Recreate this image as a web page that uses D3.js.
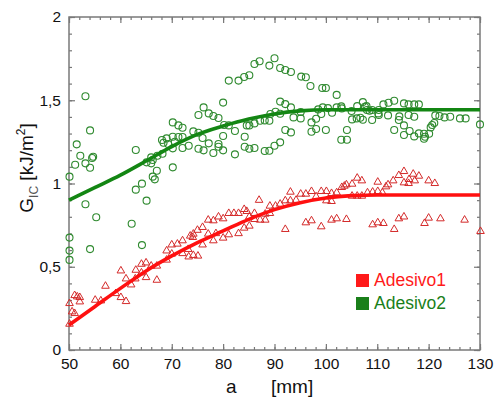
<!DOCTYPE html>
<html>
<head>
<meta charset="utf-8">
<script src="https://cdn.jsdelivr.net/npm/d3@7"></script>
<style>
  body { margin: 0; background: #fff; }
  svg { display: block; font-family: Arial, "Liberation Sans", sans-serif; }
  .tick text { font-size: 15.5px; fill: #111; }
  .tick line { stroke: #777; }
  .domain { display: none; }
</style>
</head>
<body>
<svg id="chart" width="494" height="398"></svg>
<script>
// Adesivo1: [a (mm), GIC (kJ/m2)]
const adesivo1 = [
  [50.1,0.28],[50.1,0.156],[50.6,0.23],[51.1,0.22],[51.1,0.328],[51.6,0.32],[52.1,0.316],[52.1,0.29],
  [55.1,0.30],[56.2,0.296],[57.1,0.384],[59.1,0.34],[60.1,0.316],[60.1,0.476],[61.1,0.292],[61.1,0.428],
  [62.1,0.392],[62.9,0.428],[63.0,0.48],[64.1,0.516],[64.1,0.464],[65.0,0.524],[65.0,0.436],[66.0,0.505],
  [67.1,0.505],[67.1,0.42],[69.0,0.541],[69.0,0.596],[70.0,0.632],[70.0,0.577],[71.1,0.637],[72.1,0.657],
  [72.1,0.58],[73.2,0.605],[73.3,0.56],[73.6,0.685],[74.1,0.677],[74.2,0.569],[74.2,0.697],[75.0,0.72],
  [75.1,0.565],[76.0,0.737],[76.0,0.632],[77.1,0.781],[77.1,0.697],[78.1,0.777],[78.1,0.657],[78.6,0.70],
  [79.1,0.80],[80.0,0.789],[80.0,0.673],[81.1,0.693],[81.1,0.821],[82.1,0.821],[83.0,0.821],[83.0,0.70],
  [84.1,0.845],[84.1,0.733],[84.6,0.833],[85.1,0.745],[85.1,0.80],[86.1,0.785],[86.1,0.821],[87.0,0.90],
  [87.2,0.781],[88.2,0.781],[88.2,0.817],[89.1,0.821],[89.1,0.865],[90.2,0.865],[91.1,0.877],[92.1,0.897],
  [92.1,0.725],[93.1,0.949],[93.1,0.897],[94.2,0.90],[95.1,0.937],[96.1,0.937],[96.1,0.765],[97.2,0.777],
  [97.2,0.953],[98.1,0.921],[99.1,0.953],[99.1,0.741],[100.1,0.953],[100.1,0.897],[101.1,0.941],[101.1,0.893],
  [101.1,0.781],[102.1,0.945],[102.1,0.789],[103.1,0.977],[103.6,0.985],[104.0,0.993],[104.0,0.785],[105.1,0.997],
  [105.1,0.925],[106.1,0.925],[106.1,1.033],[107.0,0.925],[107.0,1.017],[108.1,0.945],[109.1,0.949],[109.1,0.753],
  [110.1,0.953],[110.1,1.009],[110.1,0.765],[111.0,0.945],[111.2,0.761],[111.7,0.981],[112.1,0.993],[113.1,1.017],
  [113.3,0.725],[114.2,1.049],[114.2,0.789],[115.2,1.073],[115.2,1.005],[115.2,0.80],[116.1,1.001],[116.2,1.025],
  [117.0,1.057],[117.3,1.017],[118.1,1.045],[120.0,1.017],[120.0,0.793],[119.2,0.761],[121.2,1.001],[122.3,0.789],
  [127.0,0.781],[130.1,0.713]
];

// Adesivo2: [a (mm), GIC (kJ/m2)]
const adesivo2 = [
  [50.1,1.041],[51.2,1.113],[51.5,1.235],[52.2,1.167],[53.2,1.524],[53.2,1.121],[54.1,1.319],[54.1,1.095],
  [54.5,1.153],[54.7,1.161],[63.0,1.201],[63.0,0.963],[64.2,0.999],[65.1,1.127],[66.0,1.121],[66.3,1.141],
  [66.0,1.157],[66.3,1.041],[66.7,1.025],[67.1,1.077],[67.2,1.167],[68.2,1.179],[68.1,1.261],[68.4,1.245],
  [69.0,1.271],[69.3,1.237],[70.2,1.367],[70.2,1.211],[70.2,1.097],[70.2,1.281],[70.6,1.251],[71.3,1.349],
  [72.1,1.335],[71.3,1.279],[72.1,1.279],[72.1,1.213],[73.3,1.227],[74.2,1.313],[75.2,1.305],[75.2,1.209],
  [76.2,1.199],[76.0,1.273],[75.2,1.411],[76.2,1.457],[77.2,1.421],[78.1,1.405],[79.1,1.393],[77.2,1.241],
  [78.1,1.183],[79.1,1.237],[79.1,1.221],[80.0,1.199],[80.0,1.285],[80.0,1.486],[80.2,1.351],[81.1,1.349],
  [81.1,1.618],[82.3,1.175],[82.3,1.315],[83.0,1.618],[84.1,1.640],[85.1,1.650],[84.2,1.281],[84.2,1.221],
  [85.1,1.209],[86.1,1.213],[84.6,1.349],[85.1,1.349],[86.1,1.361],[86.1,1.718],[87.1,1.734],[87.2,1.377],
  [88.1,1.195],[89.0,1.197],[88.1,1.379],[89.0,1.377],[89.2,1.417],[89.0,1.708],[90.0,1.752],[90.0,1.227],
  [90.2,1.431],[91.1,1.247],[91.1,1.694],[92.1,1.682],[93.2,1.670],[91.1,1.492],[92.1,1.477],[93.2,1.457],
  [91.1,1.419],[92.1,1.321],[93.2,1.307],[93.7,1.397],[95.1,1.429],[95.1,1.391],[95.2,1.642],[96.1,1.638],
  [97.0,1.586],[97.2,1.367],[97.2,1.311],[98.1,1.327],[98.1,1.389],[98.5,1.445],[99.1,1.417],[99.3,1.574],
  [100.0,1.574],[100.0,1.321],[99.4,1.457],[100.4,1.453],[101.2,1.425],[102.1,1.532],[102.1,1.457],[103.0,1.463],
  [103.1,1.451],[103.0,1.263],[104.1,1.263],[104.1,1.321],[105.0,1.435],[105.1,1.385],[106.0,1.391],[106.7,1.395],
  [106.1,1.465],[107.2,1.489],[107.6,1.461],[107.9,1.465],[108.0,1.441],[108.5,1.437],[107.2,1.383],[109.0,1.441],
  [109.0,1.381],[110.2,1.421],[110.3,1.441],[110.3,1.411],[111.2,1.475],[112.1,1.409],[112.2,1.485],[113.3,1.497],
  [113.3,1.321],[114.2,1.381],[114.3,1.403],[115.2,1.481],[115.2,1.349],[115.2,1.291],[116.1,1.411],[116.1,1.475],
  [116.3,1.315],[117.2,1.475],[117.2,1.401],[117.2,1.283],[118.1,1.475],[118.1,1.301],[119.1,1.299],[119.1,1.269],
  [119.3,1.281],[120.1,1.299],[120.4,1.337],[120.7,1.351],[121.1,1.363],[121.3,1.409],[122.1,1.405],[123.1,1.397],
  [124.2,1.401],[126.1,1.391],[127.2,1.391],[130.0,1.355],
  [50.1,0.675],[50.1,0.597],[50.1,0.541],[53.2,0.875],[55.3,0.797],[54.1,0.606],[62.2,0.758],[64.2,0.630],
  [65.1,0.897]
];

// fitted curves
const fit1 = [[50,0.15],[55,0.26],[60,0.37],[65,0.475],[70,0.565],[75,0.645],[80,0.715],[85,0.785],
  [90,0.843],[95,0.885],[100,0.913],[105,0.927],[110,0.931],[130,0.931]];
const fit2 = [[50,0.90],[55,0.975],[60,1.05],[65,1.135],[70,1.222],[75,1.295],[80,1.345],[85,1.387],
  [90,1.418],[95,1.436],[100,1.443],[130,1.443]];

const xTicks = [50, 60, 70, 80, 90, 100, 110, 120, 130];
const xMinor = d3.range(50, 131, 2);
const yTicks = [0, 0.5, 1, 1.5, 2];
const yMinor = d3.range(0, 2.001, 0.1);
const yLabels = ['0', '0,5', '1', '1,5', '2'];

const legendNames = ['Adesivo1', 'Adesivo2'];
const legendColors = ['#ff1a1a', '#1a7f1a'];

const svg = d3.select('#chart');
const plotLeft = 69, plotRight = 480, plotTop = 17, plotBottom = 350;

const x = d3.scaleLinear().domain([50, 130]).range([plotLeft, plotRight]);
const y = d3.scaleLinear().domain([0, 2]).range([plotBottom, plotTop]);

// axes, ticks pointing inwards on all sides
function addAxis(axis, tx, ty) {
	return svg.append('g').attr('transform', 'translate(' + tx + ',' + ty + ')').call(axis);
}
addAxis(d3.axisBottom(x).tickValues(xMinor).tickSize(-3).tickFormat(''), 0, plotBottom);
addAxis(d3.axisBottom(x).tickValues(xTicks).tickSize(-6).tickPadding(8), 0, plotBottom);
addAxis(d3.axisTop(x).tickValues(xMinor).tickSize(-3).tickFormat(''), 0, plotTop);
addAxis(d3.axisTop(x).tickValues(xTicks).tickSize(-6).tickFormat(''), 0, plotTop);
addAxis(d3.axisLeft(y).tickValues(yMinor).tickSize(-3).tickFormat(''), plotLeft, 0);
addAxis(d3.axisLeft(y).tickValues(yTicks).tickSize(-6).tickPadding(8)
	.tickFormat((d, i) => yLabels[i]), plotLeft, 0);
addAxis(d3.axisRight(y).tickValues(yMinor).tickSize(-3).tickFormat(''), plotRight, 0);
addAxis(d3.axisRight(y).tickValues(yTicks).tickSize(-6).tickFormat(''), plotRight, 0);

svg.selectAll('.tick line').attr('stroke-width', 1.2);

svg.append('rect')
	.attr('x', plotLeft).attr('y', plotTop)
	.attr('width', plotRight - plotLeft).attr('height', plotBottom - plotTop)
	.attr('fill', 'none')
	.attr('stroke', '#7a7a7a')
	.attr('stroke-width', 1.5);

// markers
svg.append('g').selectAll('circle')
	.data(adesivo2)
	.enter().append('circle')
	.attr('cx', d => x(d[0]))
	.attr('cy', d => y(d[1]))
	.attr('r', 3.5)
	.attr('fill', 'none')
	.attr('stroke', '#2f8a2f')
	.attr('stroke-width', 1.1);

const tri = d3.symbol(d3.symbolTriangle, 25);
svg.append('g').selectAll('path')
	.data(adesivo1)
	.enter().append('path')
	.attr('d', tri)
	.attr('transform', d => 'translate(' + x(d[0]) + ',' + y(d[1]) + ')')
	.attr('fill', 'none')
	.attr('stroke', '#d42a2a')
	.attr('stroke-width', 1);

// fit lines
const line = d3.line().x(d => x(d[0])).y(d => y(d[1])).curve(d3.curveMonotoneX);
svg.append('path').datum(fit2)
	.attr('d', line).attr('fill', 'none')
	.attr('stroke', '#138613').attr('stroke-width', 3.6);
svg.append('path').datum(fit1)
	.attr('d', line).attr('fill', 'none')
	.attr('stroke', '#ff1010').attr('stroke-width', 3.6);

// legend
const legend = svg.append('g').selectAll('g')
	.data(legendNames)
	.enter().append('g')
	.attr('transform', (d, i) => 'translate(356,' + (274 + i * 23) + ')');
legend.append('rect')
	.attr('width', 13).attr('height', 13)
	.attr('fill', (d, i) => legendColors[i]);
legend.append('text')
	.attr('x', 18).attr('y', 12)
	.attr('font-size', 17.5)
	.attr('fill', (d, i) => legendColors[i])
	.text(d => d);

// axis titles
const xt = svg.append('text')
	.attr('y', 393)
	.attr('font-size', 19)
	.attr('fill', '#111');
xt.append('tspan').attr('x', 226).text('a');
xt.append('tspan').attr('x', 271).text('[mm]');

const yt = svg.append('text')
	.attr('transform', 'translate(33,168) rotate(-90)')
	.attr('text-anchor', 'middle')
	.attr('font-size', 19)
	.attr('fill', '#111');
yt.append('tspan').text('G');
yt.append('tspan').attr('font-size', 12).attr('dy', 5).attr('fill', '#555').text('IC');
yt.append('tspan').attr('dy', -5).text(' [kJ/m');
yt.append('tspan').attr('font-size', 12).attr('dy', -8).text('2');
yt.append('tspan').attr('dy', 8).text(']');
</script>
</body>
</html>
